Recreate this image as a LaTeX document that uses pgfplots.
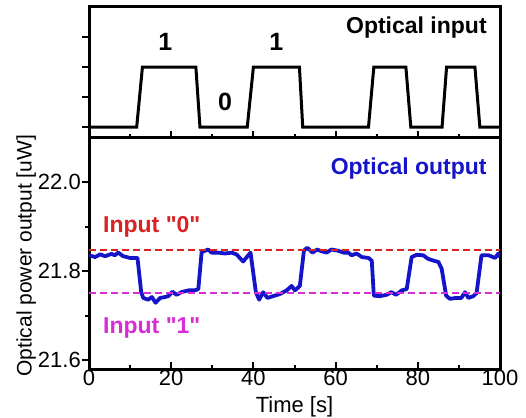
\documentclass[border=0pt]{standalone}
\usepackage{fontspec}
\setmainfont{Liberation Sans}
\newfontfamily\qfont{Liberation Sans}[Ligatures=ResetAll]
\usepackage{pgfplots}
\pgfplotsset{compat=1.18}
\definecolor{myblue}{RGB}{20,20,200}
\definecolor{myred}{RGB}{215,35,35}
\definecolor{mymag}{RGB}{215,45,215}
\begin{document}
\begin{tikzpicture}
\useasboundingbox (-89pt,7pt) rectangle (437pt,-410pt);
\pgfplotsset{myaxis/.style={
  scale only axis, width=411pt, xmin=0, xmax=100,
  axis line style={line width=3pt},
  xtick={0,20,...,100}, minor xtick={10,30,...,90},
  xtick pos=bottom, ytick pos=left,
  xtick align=inside, ytick align=outside,
  major tick length=7pt, minor tick length=4pt,
  tick style={line width=2pt, black},
  /pgf/number format/assume math mode=true,
  tick label style={font=\fontsize{22}{22}\selectfont},
  label style={font=\fontsize{22}{22}\selectfont},
}}
\begin{axis}[myaxis, name=top, at={(0,0)}, anchor=north west, height=131pt,
  ymin=-0.18, ymax=2.0, xticklabels={}, ytick={0,0.5,1,1.5}, yticklabels={}, clip=false]
\addplot[line width=3pt, black] coordinates {(0,0)(11.6,0)(13.0,1)(26.0,1)(27.0,0)(38.5,0)(40.0,1)(51.2,1)(52.0,0)(68.0,0)(69.3,1)(77.1,1)(78.3,0)(85.9,0)(87.0,1)(93.9,1)(95.1,0)(100,0)};
\node[font=\bfseries\fontsize{25}{25}\selectfont, anchor=base] at (axis cs:18.6,1.28) {1};
\node[font=\bfseries\fontsize{25}{25}\selectfont, anchor=base] at (axis cs:45.6,1.28) {1};
\node[font=\bfseries\fontsize{25}{25}\selectfont, anchor=base] at (axis cs:33.1,0.283) {0};
\node[font=\bfseries\fontsize{23}{23}\selectfont, anchor=base east, inner xsep=0pt] at (axis cs:96.8,1.56) {Optical input};
\end{axis}
\begin{axis}[myaxis, at={(top.south west)}, anchor=north west, height=231pt,
  ymin=21.58, ymax=22.1, ytick={21.6,21.8,22.0}, minor ytick={21.7,21.9},
  yticklabel style={/pgf/number format/fixed, /pgf/number format/fixed zerofill, /pgf/number format/precision=1, inner xsep=1pt},
  xticklabel style={inner ysep=1pt},
  xlabel={Time [s]}, ylabel={Optical power output [uW]},
  xlabel style={at={(axis description cs:0.5,0)}, anchor=base, yshift=-43pt},
  ylabel style={at={(axis description cs:-0.153,0.49)}, anchor=center, font=\fontsize{21}{21}\selectfont}]
\addplot[myblue, line width=3.8pt, line join=round] coordinates {(0,21.836)(1.5,21.832)(2.7,21.838)(3.9,21.834)(5.5,21.839)(6.3,21.836)(7.1,21.842)(8.3,21.834)(10,21.83)(11.8,21.83)(12.7,21.753)(13.2,21.74)(14.4,21.736)(15.3,21.742)(16.2,21.729)(17.3,21.74)(18.5,21.742)(19.3,21.744)(20.3,21.754)(21.3,21.747)(22.5,21.753)(24.2,21.757)(25.8,21.757)(26.6,21.76)(27.4,21.843)(29.0,21.849)(29.8,21.842)(31.4,21.842)(33.1,21.84)(34.7,21.842)(35.9,21.838)(37.5,21.822)(39.3,21.842)(40.6,21.753)(41.4,21.736)(42.4,21.753)(43.4,21.74)(44.8,21.744)(46.5,21.749)(48.1,21.757)(49.3,21.767)(50.1,21.757)(51.3,21.767)(52.3,21.847)(53.1,21.853)(54.4,21.842)(55.5,21.849)(56.6,21.845)(57.8,21.842)(59.0,21.849)(60.7,21.846)(61.9,21.842)(63.1,21.842)(63.9,21.836)(65.1,21.84)(66.4,21.832)(68.0,21.83)(68.8,21.824)(69.3,21.745)(70.8,21.744)(72.4,21.747)(73.6,21.753)(74.7,21.747)(76.1,21.757)(77.3,21.76)(78.5,21.832)(79.7,21.837)(81.3,21.836)(82.5,21.828)(83.8,21.824)(85.0,21.821)(85.8,21.806)(86.9,21.745)(87.8,21.738)(89.4,21.74)(90.6,21.74)(91.5,21.753)(92.3,21.74)(93.5,21.744)(94.3,21.751)(95.5,21.836)(97.2,21.836)(98.8,21.83)(99.6,21.84)(100,21.832)};
\addplot[myred, line width=2.2pt, dash pattern=on 7pt off 4pt] coordinates {(0,21.847)(100,21.847)};
\addplot[mymag, line width=2.2pt, dash pattern=on 7pt off 4pt] coordinates {(0,21.751)(100,21.751)};
\node[font=\bfseries\fontsize{23}{23}\selectfont, anchor=base east, inner xsep=0pt, text=myblue] at (axis cs:96.8,22.017) {Optical output};
\node[font=\qfont\bfseries\fontsize{23}{23}\selectfont, anchor=base west, inner xsep=0pt, text=myred] at (axis cs:3.4,21.888) {Input "0"};
\node[font=\qfont\bfseries\fontsize{23}{23}\selectfont, anchor=base west, inner xsep=0pt, text=mymag] at (axis cs:3.4,21.659) {Input "1"};
\end{axis}
\end{tikzpicture}
\end{document}
